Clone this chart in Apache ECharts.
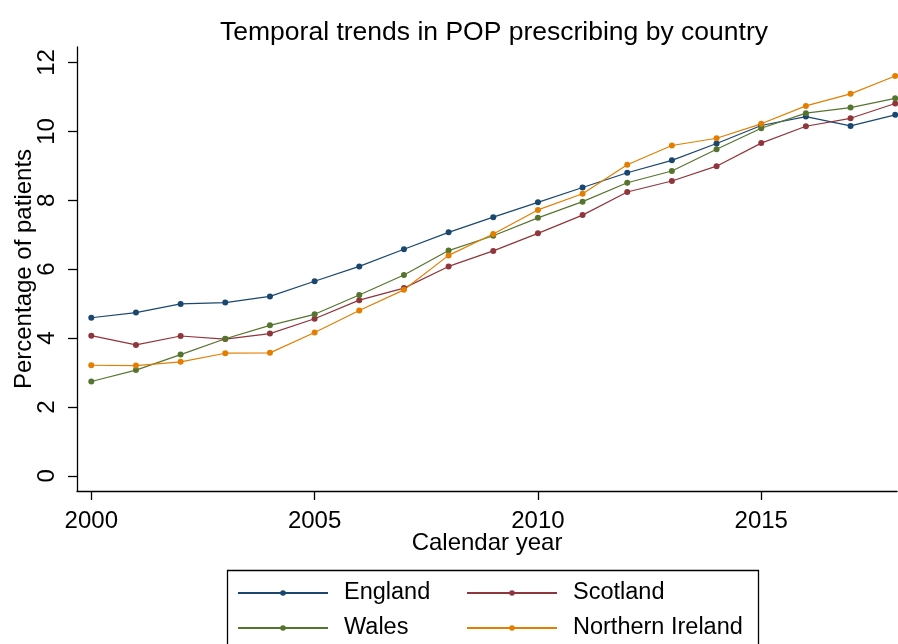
<!DOCTYPE html>
<html><head><meta charset="utf-8">
<script src="https://cdn.jsdelivr.net/npm/echarts@6/dist/echarts.min.js"></script>
<style>html,body{margin:0;padding:0;background:#fff}#c{width:898px;height:644px}</style>
</head><body><div id="c"></div>
<script>
const years = [2000,2001,2002,2003,2004,2005,2006,2007,2008,2009,2010,2011,2012,2013,2014,2015,2016,2017,2018];
const england = [4.59,4.74,4.99,5.03,5.21,5.65,6.08,6.58,7.07,7.51,7.94,8.37,8.80,9.16,9.65,10.17,10.43,10.16,10.48];
const scotland = [4.07,3.80,4.06,3.97,4.13,4.56,5.10,5.45,6.08,6.53,7.04,7.57,8.24,8.56,8.99,9.66,10.15,10.38,10.81];
const wales = [2.74,3.07,3.52,3.98,4.37,4.69,5.25,5.83,6.54,6.97,7.49,7.96,8.51,8.85,9.48,10.09,10.53,10.69,10.96];
const nireland = [3.21,3.20,3.31,3.56,3.57,4.16,4.80,5.40,6.40,7.02,7.72,8.19,9.03,9.59,9.80,10.22,10.74,11.09,11.61];
const xTicks = [2000,2005,2010,2015];
const yTicks = [0,2,4,6,8,10,12];
const names = ['England','Scotland','Wales','Northern Ireland'];
const colors = ['#1a476f','#90353b','#55752f','#e37e00'];
const seriesData = [england, scotland, wales, nireland];
const font = 'Liberation Sans, Arial, sans-serif';

const chart = echarts.init(document.getElementById('c'), null, {renderer:'canvas'});
chart.setOption({
  animation:false,
  backgroundColor:'#fff',
  title:{text:'Temporal trends in POP prescribing by country', left:489, textAlign:'center', top:14,
    textStyle:{fontFamily:font, fontSize:26.5, fontWeight:'normal', color:'#000'}},
  grid:{left:77, right:1, top:47, bottom:153, containLabel:false, outerBoundsMode:'none'},
  xAxis:{type:'value', min:1999.68, max:2018.04,
    name:'Calendar year', nameLocation:'middle', nameGap:40, nameMoveOverlap:false,
    nameTextStyle:{fontFamily:font, fontSize:24, color:'#000'},
    axisLine:{show:true, onZero:false, lineStyle:{color:'#000', width:1.3}},
    axisTick:{show:true, length:9, customValues:xTicks, lineStyle:{color:'#000', width:1.3}},
    axisLabel:{customValues:xTicks, formatter:v=>String(v), fontFamily:font, fontSize:24, color:'#000', margin:18},
    splitLine:{show:false}},
  yAxis:{type:'value', min:-0.44, max:12.45,
    name:'Percentage of patients', nameLocation:'middle', nameGap:41, nameMoveOverlap:false,
    nameTextStyle:{fontFamily:font, fontSize:24, color:'#000'},
    axisLine:{show:true, onZero:false, lineStyle:{color:'#000', width:1.3}},
    axisTick:{show:true, length:9, customValues:yTicks, lineStyle:{color:'#000', width:1.3}},
    axisLabel:{customValues:yTicks, formatter:v=>String(v), rotate:90, fontFamily:font, fontSize:24, color:'#000', margin:18},
    splitLine:{show:false}},
  legend:[
    {orient:'vertical', left:237, top:581, padding:0, itemWidth:90, itemHeight:7, itemGap:11, data:['England','Wales'],
     textStyle:{fontFamily:font, fontSize:23.5, color:'#000', padding:[0,0,0,11]}},
    {orient:'vertical', left:466, top:581, padding:0, itemWidth:90, itemHeight:7, itemGap:11, data:['Scotland','Northern Ireland'],
     textStyle:{fontFamily:font, fontSize:23.5, color:'#000', padding:[0,0,0,11]}}
  ],
  graphic:[{type:'rect', shape:{x:227.5, y:570.5, width:531, height:90}, style:{fill:'none', stroke:'#000', lineWidth:1.3}}],
  series: names.map((n,i)=>({
    name:n, type:'line', data: years.map((y,j)=>[y, seriesData[i][j]]),
    symbol:'circle', symbolSize:6, showSymbol:true,
    lineStyle:{color:colors[i], width:1.2}, itemStyle:{color:colors[i]},
    emphasis:{disabled:true}
  }))
});
</script></body></html>
